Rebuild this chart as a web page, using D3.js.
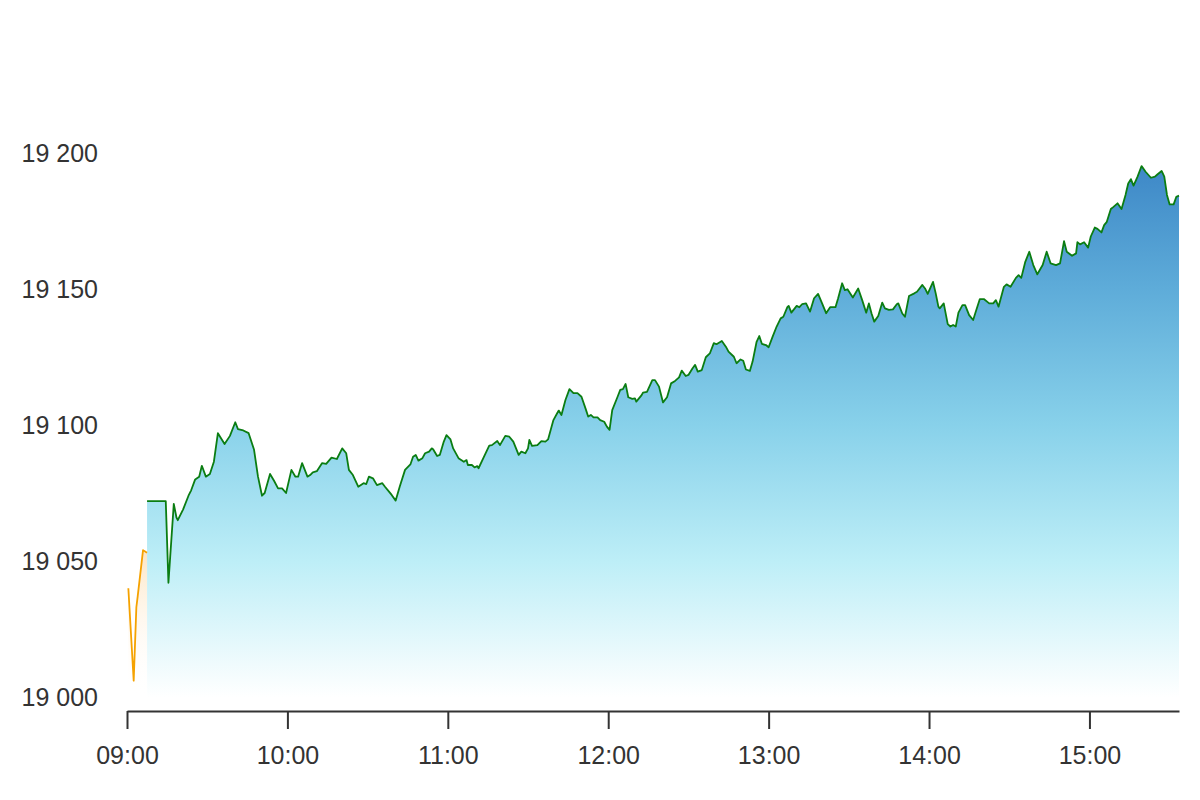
<!DOCTYPE html>
<html>
<head>
<meta charset="utf-8">
<script src="https://cdn.jsdelivr.net/npm/d3@7"></script>
<style>
  html, body { margin: 0; padding: 0; background: #fff; }
  svg text { font-family: "Liberation Sans", Arial, sans-serif; }
</style>
</head>
<body>
<svg id="chart" width="1200" height="800"></svg>
<script>
// ---- data ----
const openTimes = ["09:00:30","09:02:30","09:03:30","09:04:00","09:06:00","09:07:30"];
const openValues = [19040, 19006, 19033, 19037, 19054, 19053];

const sessionTimes = [
"09:07:30","09:14:30","09:15:30","09:17:30","09:18:30","09:19:00","09:21:00","09:23:00","09:24:00","09:25:30",
"09:27:00","09:28:00","09:29:30","09:31:00","09:32:30","09:34:00","09:36:30","09:38:30","09:40:30","09:41:30",
"09:43:30","09:45:30","09:47:30","09:49:00","09:50:30","09:51:30","09:53:30","09:55:00","09:56:30","09:58:00",
"09:59:30","10:01:30","10:03:00","10:04:00","10:05:30","10:07:30","10:08:30","10:09:30","10:11:00","10:13:00",
"10:14:30","10:16:30","10:18:30","10:20:30","10:22:00","10:23:00","10:24:30","10:26:30","10:28:30","10:29:30",
"10:30:30","10:32:00","10:33:30","10:35:30","10:36:30","10:38:00","10:39:00","10:40:30","10:42:00","10:44:00",
"10:46:00","10:47:00","10:48:00","10:49:00","10:50:30","10:51:30","10:53:00","10:54:00","10:54:30","10:56:00",
"10:57:00","10:58:30","10:59:30","11:01:00","11:02:00","11:04:00","11:06:00","11:07:00","11:07:30","11:09:00",
"11:10:00","11:11:00","11:11:30","11:13:30","11:15:30","11:16:30","11:18:30","11:19:30","11:21:30","11:23:00",
"11:24:30","11:26:30","11:27:30","11:29:00","11:30:00","11:30:30","11:31:30","11:33:30","11:35:00","11:36:30",
"11:37:30","11:39:30","11:41:00","11:41:30","11:42:30","11:44:00","11:45:30","11:47:00","11:48:30","11:50:00",
"11:51:30","11:52:30","11:53:30","11:54:30","11:56:00","11:57:00","11:58:30","11:59:30","12:00:30","12:01:30",
"12:03:30","12:04:30","12:05:30","12:06:30","12:07:30","12:09:00","12:10:00","12:10:30","12:12:30","12:13:00",
"12:14:30","12:16:30","12:17:30","12:19:00","12:20:30","12:22:00","12:23:30","12:25:00","12:26:30","12:27:30",
"12:29:00","12:30:00","12:31:30","12:32:30","12:33:30","12:35:00","12:36:30","12:38:00","12:39:30","12:40:30",
"12:42:30","12:44:00","12:45:00","12:47:00","12:48:00","12:49:30","12:50:30","12:51:30","12:53:00","12:54:00",
"12:55:30","12:56:30","12:57:30","12:59:00","13:00:00","13:01:30","13:03:00","13:04:30","13:05:30","13:07:00",
"13:07:30","13:08:30","13:10:30","13:11:30","13:12:30","13:14:00","13:15:30","13:17:00","13:18:30","13:20:00",
"13:21:30","13:23:00","13:25:00","13:26:00","13:27:30","13:28:30","13:29:30","13:31:30","13:33:30","13:35:00",
"13:36:30","13:37:30","13:38:30","13:39:30","13:41:00","13:42:30","13:43:30","13:45:00","13:46:30","13:48:00",
"13:48:30","13:50:00","13:51:00","13:52:30","13:54:30","13:55:30","13:57:30","13:58:30","13:59:30","14:01:30",
"14:02:30","14:03:30","14:04:00","14:05:30","14:07:00","14:08:00","14:09:00","14:10:00","14:11:00","14:12:30",
"14:13:30","14:15:00","14:16:30","14:17:30","14:19:00","14:20:30","14:22:30","14:24:00","14:25:00","14:26:00",
"14:28:00","14:29:00","14:30:30","14:32:30","14:33:30","14:34:30","14:36:00","14:37:30","14:39:00","14:40:30",
"14:42:30","14:44:00","14:45:30","14:47:30","14:49:00","14:50:30","14:51:30","14:53:30","14:55:00","14:55:30",
"14:56:30","14:58:00","14:59:30","15:00:30","15:02:00","15:03:00","15:04:30","15:05:30","15:06:30","15:08:00",
"15:09:00","15:10:30","15:12:00","15:13:30","15:14:30","15:15:30","15:16:30","15:18:00","15:19:30","15:21:00",
"15:23:00","15:24:30","15:25:30","15:27:00","15:28:00","15:29:00","15:30:00","15:31:30","15:32:30","15:33:30"
];
const sessionValues = [
19072,19072,19042,19071,19066,19065,19069,19074,19076,19080,
19081,19085,19081,19082,19086.5,19097,19093,19096,19101,19098.5,
19098,19097,19091,19081,19074,19075,19082,19079.5,19076.7,19076.7,
19075,19083.5,19081,19081,19086,19081,19081.6,19082.6,19083,19086,
19085.7,19088,19087.5,19091.4,19089.6,19083.5,19081.6,19077.3,19078.6,19078.3,
19081,19080.4,19077.9,19078.6,19077.3,19075.5,19074.3,19072.2,19077.3,19083.5,
19085.5,19088.3,19089,19086.9,19087.8,19089.6,19090.2,19091.4,19091.1,19088.6,
19089,19093.9,19096.3,19094.7,19091.4,19087.8,19086.5,19087.1,19085.3,19085.3,
19084.4,19084.9,19084.1,19088.3,19092.4,19092.6,19094.1,19092.6,19096,19095.7,
19093.9,19089,19090.2,19089.6,19091.4,19094.5,19092.3,19092.6,19094.1,19093.9,
19094.7,19101.8,19104.5,19105.3,19103.7,19109.2,19113.2,19111.7,19111.7,19110.4,
19106.1,19103.1,19103.7,19102.8,19102.8,19101.8,19101.2,19099.4,19098.2,19105.5,
19110.4,19112.9,19113.2,19115.1,19110.2,19109.6,19109.8,19108.6,19111,19111.9,
19112.2,19116.5,19116.5,19114.1,19108.3,19110.2,19115.3,19116.2,19117.5,19120,
19118,19118.4,19120.8,19122.1,19119.6,19120.2,19124.9,19126.3,19130.1,19129.7,
19130.9,19128.8,19127,19125.1,19122.7,19124.1,19123.6,19120.4,19119.9,19123.3,
19130.6,19132.7,19129.8,19129.4,19128.6,19132.5,19136.2,19139.2,19139.8,19143.3,
19143.8,19141.3,19143.8,19143.3,19144.4,19144.7,19141.7,19146.6,19148.2,19144.7,
19141.1,19143.3,19143.3,19146.6,19152.1,19149.6,19149.9,19146.9,19150.2,19145.9,
19141.3,19144.7,19141,19138,19140.1,19145,19142.9,19142.3,19142.5,19144.5,
19144.7,19141,19139.8,19147.4,19148.4,19149,19151.5,19150.2,19148.2,19152.6,
19148.4,19143.5,19142.9,19144.7,19137.1,19136.2,19136.8,19136.2,19141.3,19144.1,
19144.1,19140.4,19138.6,19141.7,19146.3,19146.3,19144.7,19144.7,19145.9,19143.5,
19150.8,19151.7,19150.8,19154.1,19155.1,19154.1,19160,19163.7,19158.8,19155.4,
19158.8,19163.7,19159.4,19158.8,19159.4,19167.6,19163.7,19162.2,19163.1,19167.2,
19166.4,19167.2,19165.2,19169.3,19172.6,19172.1,19170.8,19173.5,19174.7,19179.4,
19180.2,19181.5,19179.4,19184.6,19188.8,19190.4,19188,19191.3,19195.2,19193.1,
19190.9,19191.3,19192.2,19193.4,19191.3,19184.6,19181.1,19181.1,19183.9,19184.3
];

const xTickLabels = ["09:00","10:00","11:00","12:00","13:00","14:00","15:00"];
const yTickValues = [19000, 19050, 19100, 19150, 19200];

// ---- chart ----
(function () {
const parseT = d3.timeParse("%H:%M:%S");
const parseHM = d3.timeParse("%H:%M");
const openData = openTimes.map((t, i) => ({ t: parseT(t), v: openValues[i] }));
const sessionData = sessionTimes.map((t, i) => ({ t: parseT(t), v: sessionValues[i] }));

const svg = d3.select("#chart");
const plotLeft = 127, plotRight = 1179, plotTop = 153, plotBottom = 697, axisY = 711;

const x = d3.scaleTime()
  .domain([parseHM("09:00"), sessionData[sessionData.length - 1].t])
  .range([plotLeft, plotRight]);
const y = d3.scaleLinear().domain([19000, 19200]).range([plotBottom, plotTop]);

const defs = svg.append("defs");
const blue = defs.append("linearGradient").attr("id", "blueFill")
  .attr("gradientUnits", "userSpaceOnUse")
  .attr("x1", 0).attr("x2", 0).attr("y1", y(19200)).attr("y2", y(19000));
[[0, "#3a84c5"], [0.25, "#5eacd9"], [0.5, "#88d1ea"], [0.75, "#bdeef7"], [1, "#ffffff"]]
  .forEach(([o, c]) => blue.append("stop").attr("offset", o).attr("stop-color", c));

const orange = defs.append("linearGradient").attr("id", "orangeFill")
  .attr("gradientUnits", "userSpaceOnUse")
  .attr("x1", 0).attr("x2", 0).attr("y1", y(19055)).attr("y2", y(19000));
orange.append("stop").attr("offset", 0).attr("stop-color", "#fbd9a8").attr("stop-opacity", 0.7);
orange.append("stop").attr("offset", 1).attr("stop-color", "#ffffff").attr("stop-opacity", 0);

const area = d3.area().x(d => x(d.t)).y0(y(19000)).y1(d => y(d.v));
const line = d3.line().x(d => x(d.t)).y(d => y(d.v));

svg.append("path").datum(openData).attr("d", area).attr("fill", "url(#orangeFill)");
svg.append("path").datum(sessionData).attr("d", area).attr("fill", "url(#blueFill)");

svg.append("path").datum(openData).attr("d", line)
  .attr("fill", "none").attr("stroke", "#f5a200").attr("stroke-width", 1.8)
  .attr("stroke-linejoin", "round");
svg.append("path").datum(sessionData).attr("d", line)
  .attr("fill", "none").attr("stroke", "#0b7d12").attr("stroke-width", 1.8)
  .attr("stroke-linejoin", "round");

// axes
const loc = d3.formatLocale({ decimal: ".", thousands: " ", grouping: [3], currency: ["", ""] });
const fmtY = loc.format(",");

const yAxis = svg.append("g").attr("transform", `translate(${plotLeft},0)`)
  .call(d3.axisLeft(y).tickValues(yTickValues).tickSize(0).tickPadding(29).tickFormat(fmtY));
yAxis.select(".domain").remove();
yAxis.selectAll("text").attr("font-size", 25).attr("fill", "#333")
  .attr("font-family", "'Liberation Sans', Arial, sans-serif");

const xAxis = svg.append("g").attr("transform", `translate(0,${axisY})`)
  .call(d3.axisBottom(x).tickValues(xTickLabels.map(parseHM)).tickSize(18).tickSizeOuter(0)
    .tickPadding(17).tickFormat(d3.timeFormat("%H:%M")));
xAxis.select(".domain").attr("stroke", "#333").attr("stroke-width", 2);
xAxis.selectAll(".tick line").attr("stroke", "#333").attr("stroke-width", 2);
xAxis.selectAll("text").attr("font-size", 25).attr("fill", "#333")
  .attr("font-family", "'Liberation Sans', Arial, sans-serif");
})();
</script>
</body>
</html>
